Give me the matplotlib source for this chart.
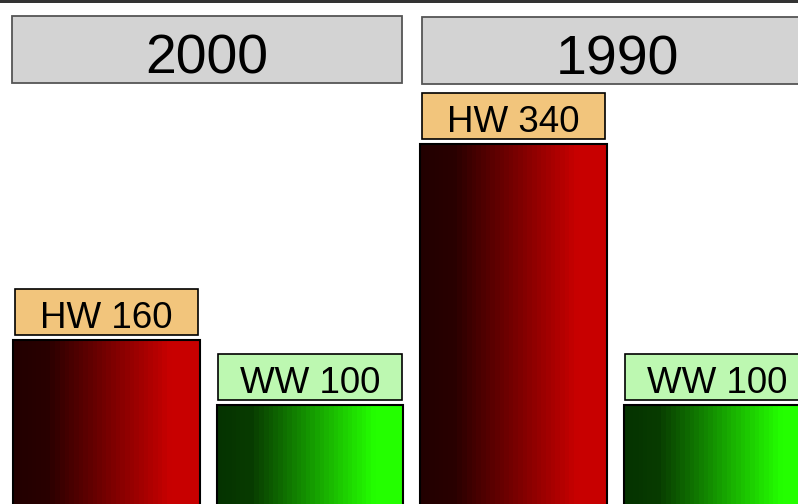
import numpy as np
import matplotlib
matplotlib.use('Agg')
import matplotlib.pyplot as plt
from matplotlib.patches import Rectangle
from matplotlib.colors import LinearSegmentedColormap

plt.rcParams['font.family'] = ['Liberation Sans', 'DejaVu Sans']

# data
years = ['2000', '1990']
kinds = ['HW', 'WW']
hw_values = [160, 340]
ww_values = [100, 100]

label_colors = ['#f2c57c', '#bdf8b1']
red_cmap = LinearSegmentedColormap.from_list(
    'red', [(0, '#220000'), (0.18, '#2a0000'), (0.85, '#c80000'), (1, '#c80000')], N=40)
green_cmap = LinearSegmentedColormap.from_list(
    'green', [(0, '#053300'), (0.18, '#083c00'), (0.85, '#24ff00'), (1, '#24ff00')], N=40)
cmaps = [red_cmap, green_cmap]

W, H = 798, 504
k = 1.088          # pixels per unit
zero_px = 514      # pixel row of value 0 (below image)

fig = plt.figure(figsize=(W / 100, H / 100), dpi=100)

# dark line along the top
fig.add_artist(Rectangle((0, 1 - 3 / H), 1, 3 / H, transform=fig.transFigure,
                         color='#333333', lw=0))

gradient = np.linspace(0, 1, 256).reshape(1, -1)

for i, year in enumerate(years):
    left_px = 4.75 + i * 407
    ax = fig.add_axes([left_px / W, 0, 407 / W, 1])
    ylim = ((zero_px - H) / k, zero_px / k)
    vals = [hw_values[i], ww_values[i]]

    bars = ax.bar(range(len(kinds)), vals, width=0.915, facecolor='none',
                  edgecolor='black', lw=1.5, zorder=3)
    for bar, cmap in zip(bars, cmaps):
        x0, y0 = bar.get_x(), bar.get_y()
        w, h = bar.get_width(), bar.get_height()
        im = ax.imshow(gradient, extent=[x0, x0 + w, y0, y0 + h], aspect='auto',
                       cmap=cmap, zorder=2, interpolation='nearest')
        im.set_clip_path(bar)

    # value labels in boxes
    for j, (kind, v) in enumerate(zip(kinds, vals)):
        box_bottom = v + 5 / k
        ax.add_patch(Rectangle((j - 0.45, box_bottom), 0.9, 46 / k,
                               facecolor=label_colors[j], edgecolor='black',
                               lw=1.2, zorder=4))
        ax.text(j, box_bottom + 7.4 / k, f'{kind} {v}', ha='center',
                va='baseline', fontsize=26.5, zorder=5)

    ax.set_xlim(-0.5, 1.5)
    ax.set_ylim(*ylim)
    ax.axis('off')

    # facet header
    hx = 12 + i * 410 - left_px
    ax.add_patch(Rectangle((hx / 407, (H - 83 - i) / H), 390 / 407, 67 / H,
                           transform=ax.transAxes, facecolor='#d3d3d3',
                           edgecolor='#555555', lw=1.3, clip_on=False))
    ax.text((hx + 195) / 407, (H - 73.5 - i) / H, year, transform=ax.transAxes,
            ha='center', va='baseline', fontsize=40)

fig.savefig('out.png', dpi=100)
